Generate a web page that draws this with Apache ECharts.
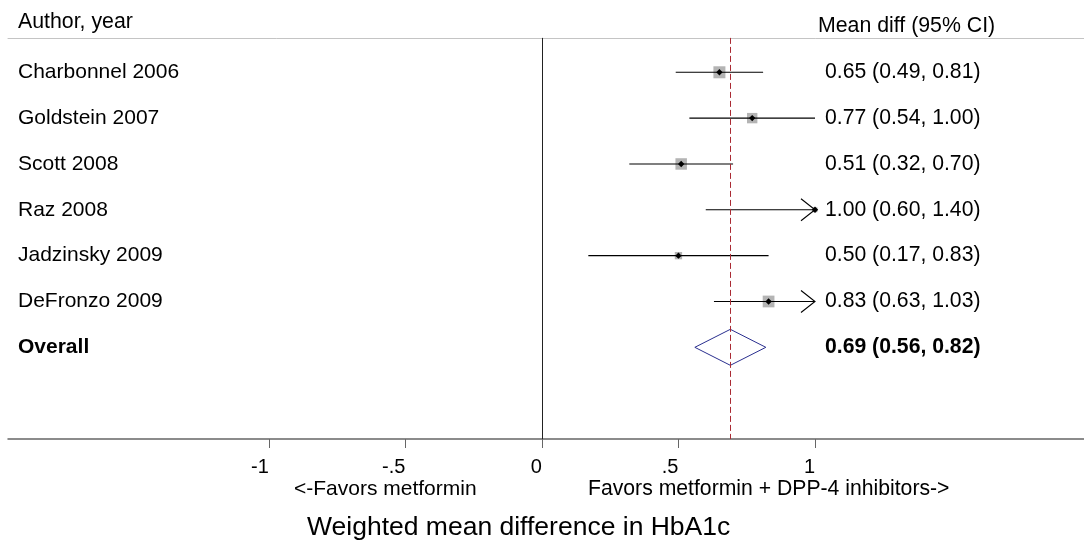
<!DOCTYPE html>
<html><head><meta charset="utf-8">
<script src="https://cdn.jsdelivr.net/npm/echarts@6/dist/echarts.min.js"></script>
<style>html,body{margin:0;padding:0;background:#fff}#c{width:1084px;height:542px}</style>
</head><body><div id="c"></div>
<script>
// ---- data ----
const studies = ['Charbonnel 2006','Goldstein 2007','Scott 2008','Raz 2008','Jadzinsky 2009','DeFronzo 2009'];
const meanDiff = [0.65, 0.77, 0.51, 1.00, 0.50, 0.83];
const ciLower  = [0.49, 0.54, 0.32, 0.60, 0.17, 0.63];
const ciUpper  = [0.81, 1.00, 0.70, 1.40, 0.83, 1.03];
const weights  = [24, 18, 22, 4, 9, 23];
const overallLabel = 'Overall';
const overall = [0.69, 0.56, 0.82];
const tickValues = [-1, -0.5, 0, 0.5, 1];
const tickLabels = ['-1', '-.5', '0', '.5', '1'];
const headerLeft = 'Author, year';
const headerRight = 'Mean diff (95% CI)';
const favorsLeft = '<-Favors metformin';
const favorsRight = 'Favors metformin + DPP-4 inhibitors->';
const xTitle = 'Weighted mean difference in HbA1c';

const FONT = '"Liberation Sans", Arial, sans-serif';
const fmt = (m, lo, hi) => `${m.toFixed(2)} (${lo.toFixed(2)}, ${hi.toFixed(2)})`;
const tMin = tickValues[0], tMax = tickValues[tickValues.length - 1];

function textEl(x, y, text, size, bold) {
  return { type: 'text', style: { x, y, text, font: (bold ? 'bold ' : '') + size + 'px ' + FONT,
    fill: '#000', textAlign: 'left', textVerticalAlign: 'middle', align: 'left', verticalAlign: 'middle' } };
}

function renderStudy(params, api) {
  const m = api.value(0), lo = api.value(1), hi = api.value(2), w = api.value(3), row = api.value(4);
  const cHi = Math.min(hi, tMax), cLo = Math.max(lo, tMin);
  const pL = api.coord([cLo, row]), pR = api.coord([cHi, row]), pM = api.coord([m, row]);
  const y = pM[1];
  const cs = params.coordSys;
  const s = 2.45 * Math.sqrt(w);
  const ch = [];
  ch.push({ type: 'rect', shape: { x: pM[0] - s / 2, y: y - s / 2, width: s, height: s }, style: { fill: '#b4b4b4' } });
  ch.push({ type: 'line', shape: { x1: pL[0], y1: y, x2: pR[0], y2: y }, style: { stroke: '#000', lineWidth: 1.1 } });
  if (hi > cHi) ch.push({ type: 'polyline', shape: { points: [[pR[0] - 14, y - 11], [pR[0], y], [pR[0] - 14, y + 11]] }, style: { stroke: '#000', fill: null, lineWidth: 1.1 } });
  if (lo < cLo) ch.push({ type: 'polyline', shape: { points: [[pL[0] + 14, y - 11], [pL[0], y], [pL[0] + 14, y + 11]] }, style: { stroke: '#000', fill: null, lineWidth: 1.1 } });
  ch.push({ type: 'polygon', shape: { points: [[pM[0] - 3.2, y], [pM[0], y - 3.2], [pM[0] + 3.2, y], [pM[0], y + 3.2]] }, style: { fill: '#000' } });
  ch.push(textEl(cs.x + 10, y, studies[row], 21, false));
  ch.push(textEl(api.coord([tMax, row])[0] + 10, y, fmt(m, lo, hi), 21.2, false));
  return { type: 'group', children: ch };
}

function renderOverall(params, api) {
  const m = api.value(0), lo = api.value(1), hi = api.value(2), row = api.value(3);
  const pL = api.coord([lo, row]), pR = api.coord([hi, row]), pM = api.coord([m, row]);
  const y = pM[1], h = 18;
  const cs = params.coordSys;
  return { type: 'group', children: [
    { type: 'polygon', shape: { points: [[pL[0], y], [pM[0], y - h], [pR[0], y], [pM[0], y + h]] }, style: { fill: null, stroke: '#2a2f8f', lineWidth: 1 } },
    textEl(cs.x + 10, y, overallLabel, 21, true),
    textEl(api.coord([tMax, row])[0] + 10, y, fmt(m, lo, hi), 21.2, true)
  ] };
}

const studyData = studies.map((s, i) => [meanDiff[i], ciLower[i], ciUpper[i], weights[i], i]);
const overallData = [[overall[0], overall[1], overall[2], studies.length]];

const chart = echarts.init(document.getElementById('c'), null, { renderer: 'canvas' });
chart.setOption({
  animation: false,
  backgroundColor: '#fff',
  grid: { left: 8, right: 0, top: 37.9, bottom: 103, containLabel: false, outerBoundsMode: 'none' },
  xAxis: [{
    type: 'value', min: -1.955, max: 1.985, position: 'bottom',
    axisLine: { show: true, onZero: false, lineStyle: { color: '#666', width: 1.5 } },
    axisTick: { show: true, customValues: tickValues, length: 9, lineStyle: { color: '#666', width: 1 } },
    axisLabel: { show: true, customValues: tickValues, align: 'right', margin: 18,
      formatter: v => tickLabels[tickValues.indexOf(v)], fontSize: 20, fontFamily: FONT, color: '#000' },
    splitLine: { show: false }
  }, {
    type: 'value', min: -1.955, max: 1.985, position: 'top',
    axisLine: { show: true, onZero: false, lineStyle: { color: '#c4c4c4', width: 1 } },
    axisTick: { show: false }, axisLabel: { show: false }, splitLine: { show: false }
  }],
  yAxis: { type: 'value', inverse: true, min: -0.75, max: 8, show: false, splitLine: { show: false } },
  series: [{
    type: 'custom', xAxisIndex: 0, renderItem: renderStudy, data: studyData, clip: false, silent: true,
    markLine: { symbol: 'none', silent: true, label: { show: false },
      data: [
        { xAxis: 0, lineStyle: { color: '#222', width: 1, type: 'solid' } },
        { xAxis: overall[0], lineStyle: { color: '#aa2a33', width: 1, type: [6, 3] } }
      ] }
  }, {
    type: 'custom', xAxisIndex: 0, renderItem: renderOverall, data: overallData, clip: false, silent: true
  }],
  graphic: [
    { type: 'text', x: 18, y: 21.7, style: { text: headerLeft, font: '21.3px ' + FONT, fill: '#000', verticalAlign: 'middle' } },
    { type: 'text', x: 818, y: 26, style: { text: headerRight, font: '21.3px ' + FONT, fill: '#000', verticalAlign: 'middle' } },
    { type: 'text', x: 294, y: 489.5, style: { text: favorsLeft, font: '21px ' + FONT, fill: '#000', verticalAlign: 'middle' } },
    { type: 'text', x: 588, y: 489.5, style: { text: favorsRight, font: '21.2px ' + FONT, fill: '#000', verticalAlign: 'middle' } },
    { type: 'text', x: 307, y: 528, style: { text: xTitle, font: '26.5px ' + FONT, fill: '#000', verticalAlign: 'middle' } }
  ]
});
</script></body></html>
